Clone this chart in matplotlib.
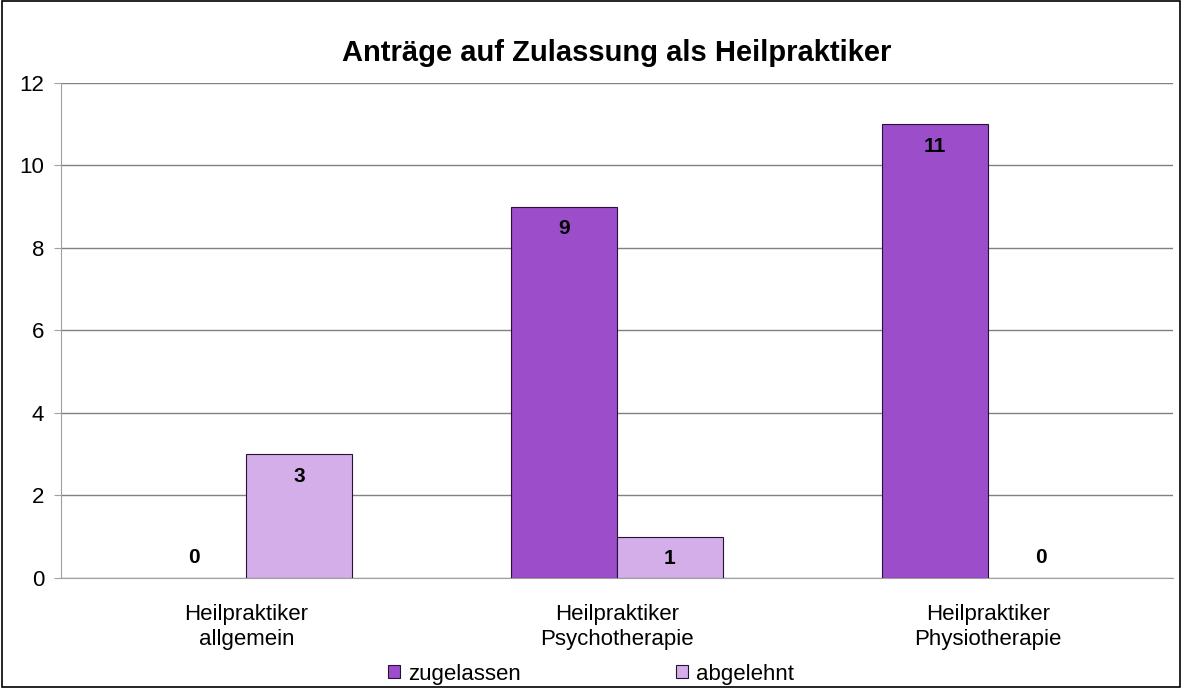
import numpy as np
import matplotlib.pyplot as plt
from matplotlib.patches import Rectangle

plt.rcParams['font.family'] = ['Liberation Sans', 'DejaVu Sans']

categories = ['Heilpraktiker\nallgemein', 'Heilpraktiker\nPsychotherapie', 'Heilpraktiker\nPhysiotherapie']
zugelassen = [0, 9, 11]
abgelehnt = [3, 1, 0]
series_names = ['zugelassen', 'abgelehnt']
colors = ['#9b4dca', '#d3aee8']

fig = plt.figure(figsize=(11.82, 6.88), dpi=100)
ax = fig.add_axes([0.0516, 0.1599, 0.9408, 0.7195])

x = np.arange(len(categories))
w = 0.285
series = [zugelassen, abgelehnt]
bars = []
for i, vals in enumerate(series):
    offs = (i - 0.5) * w
    b = ax.bar(x + offs, vals, w, color=colors[i], edgecolor='#2a0f3a', linewidth=0.8,
               label=series_names[i], zorder=3)
    bars.append(b)
    for rect, xi, v in zip(b, x + offs, vals):
        if v == 0:
            # no outline for empty bars, only the label
            rect.set_linewidth(0)
        dy = -16 if v > 0 else 15
        ax.annotate(str(v), (xi, v), xytext=(0, dy), textcoords='offset points',
                    ha='center', va='center', fontsize=15, fontweight='bold')

ax.set_xlim(-0.5, 2.5)
ax.set_ylim(0, 12)
ax.set_yticks(range(0, 13, 2))
ax.yaxis.grid(True, color='#808080', linewidth=1)
ax.set_axisbelow(True)
for s in ['top', 'right']:
    ax.spines[s].set_visible(False)
ax.spines['left'].set_color('#a0a0a0')
ax.spines['bottom'].set_color('#a0a0a0')
ax.set_xticks(x)
ax.set_xticklabels(categories, fontsize=16, linespacing=1.25)
ax.tick_params(axis='x', length=0, pad=19)
ax.tick_params(axis='y', labelsize=16, color='#a0a0a0', length=5, pad=7)

ax.set_title('Anträge auf Zulassung als Heilpraktiker', fontsize=21, fontweight='bold', pad=16)

handles = [Rectangle((0, 0), 1, 1, facecolor=c, edgecolor='#2a0f3a', linewidth=0.8) for c in colors]
fig.legend(handles=handles, labels=series_names, loc='lower center', bbox_to_anchor=(0.5, -0.024),
           ncol=2, frameon=False, fontsize=16, handlelength=0.55, handleheight=0.55,
           handletextpad=0.35, columnspacing=7)

fig.patches.append(Rectangle((0.002, 0.002), 0.996, 0.996, transform=fig.transFigure,
                             fill=False, edgecolor='black', linewidth=1.2))

fig.savefig('out.png', dpi=100)
